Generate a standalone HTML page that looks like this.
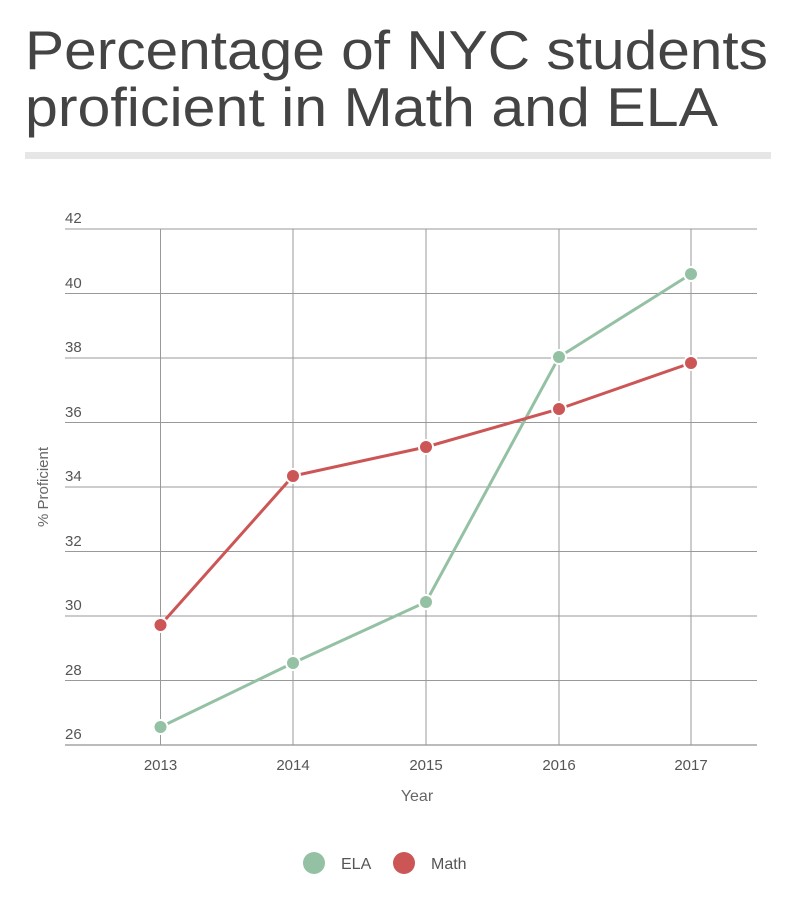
<!DOCTYPE html>
<html><head><meta charset="utf-8"><style>
body{margin:0;background:#fff;width:800px;height:915px;overflow:hidden;font-family:"Liberation Sans",sans-serif}
</style></head><body>
<svg width="800" height="915" xmlns="http://www.w3.org/2000/svg" font-family="Liberation Sans, sans-serif">
<text x="25" y="69" font-size="55" fill="#444" textLength="743" lengthAdjust="spacingAndGlyphs">Percentage of NYC students</text>
<text x="25" y="126" font-size="55" fill="#444" textLength="693" lengthAdjust="spacingAndGlyphs">proficient in Math and ELA</text>
<rect x="25" y="152" width="746" height="7" fill="#e6e6e6"/>
<g stroke="#999" stroke-width="1">
<line x1="65" x2="757" y1="229" y2="229"/>
<line x1="65" x2="757" y1="293.5" y2="293.5"/>
<line x1="65" x2="757" y1="358" y2="358"/>
<line x1="65" x2="757" y1="422.5" y2="422.5"/>
<line x1="65" x2="757" y1="487" y2="487"/>
<line x1="65" x2="757" y1="551.5" y2="551.5"/>
<line x1="65" x2="757" y1="616" y2="616"/>
<line x1="65" x2="757" y1="680.5" y2="680.5"/>
<line x1="65" x2="757" y1="745" y2="745" stroke="#777"/>
<line x1="160.5" x2="160.5" y1="229" y2="745"/>
<line x1="293" x2="293" y1="229" y2="745"/>
<line x1="426" x2="426" y1="229" y2="745"/>
<line x1="559" x2="559" y1="229" y2="745"/>
<line x1="691" x2="691" y1="229" y2="745"/>
</g>
<g font-size="15" fill="#555">
<text x="65" y="223">42</text><text x="65" y="288">40</text><text x="65" y="352">38</text>
<text x="65" y="417">36</text><text x="65" y="481">34</text><text x="65" y="546">32</text>
<text x="65" y="610">30</text><text x="65" y="675">28</text><text x="65" y="739">26</text>
</g>
<g font-size="15" fill="#555" text-anchor="middle">
<text x="160.5" y="770">2013</text><text x="293" y="770">2014</text><text x="426" y="770">2015</text>
<text x="559" y="770">2016</text><text x="691" y="770">2017</text>
<text x="417" y="801" font-size="16" fill="#666">Year</text>
</g>
<text transform="translate(48,487) rotate(-90)" font-size="15" fill="#666" text-anchor="middle">% Proficient</text>
<polyline fill="none" stroke="#94c1a4" stroke-width="3" points="160.5,727 293,663 426,602 559,357 691,274"/>
<polyline fill="none" stroke="#cc5656" stroke-width="3" points="160.5,625 293,476 426,447 559,409 691,363"/>
<g fill="#94c1a4" stroke="#fff" stroke-width="2">
<circle cx="160.5" cy="727" r="7"/><circle cx="293" cy="663" r="7"/><circle cx="426" cy="602" r="7"/><circle cx="559" cy="357" r="7"/><circle cx="691" cy="274" r="7"/>
</g>
<g fill="#cc5656" stroke="#fff" stroke-width="2">
<circle cx="160.5" cy="625" r="7"/><circle cx="293" cy="476" r="7"/><circle cx="426" cy="447" r="7"/><circle cx="559" cy="409" r="7"/><circle cx="691" cy="363" r="7"/>
</g>
<circle cx="314" cy="863" r="11" fill="#94c1a4"/>
<text x="341" y="869" font-size="16" fill="#555">ELA</text>
<circle cx="404" cy="863" r="11" fill="#cc5656"/>
<text x="431" y="869" font-size="16" fill="#555">Math</text>
</svg>
</body></html>
